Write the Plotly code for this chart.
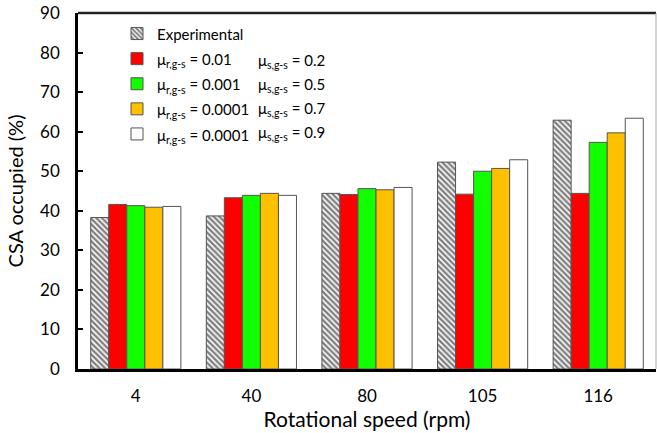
import plotly.graph_objects as go

categories = ["4", "40", "80", "105", "116"]
experimental = [38.3, 38.7, 44.4, 52.3, 62.9]
sim_a = [41.6, 43.3, 44.1, 44.2, 44.4]   # mu_r=0.01, mu_s=0.2
sim_b = [41.3, 43.9, 45.6, 50.0, 57.3]   # mu_r=0.001, mu_s=0.5
sim_c = [40.9, 44.4, 45.3, 50.7, 59.7]   # mu_r=0.0001, mu_s=0.7
sim_d = [41.1, 43.9, 45.9, 52.9, 63.4]   # mu_r=0.0001, mu_s=0.9

names_r = ["μ<sub>r,g-s</sub> = 0.01", "μ<sub>r,g-s</sub> = 0.001",
           "μ<sub>r,g-s</sub> = 0.0001", "μ<sub>r,g-s</sub> = 0.0001"]
names_s = ["μ<sub>s,g-s</sub> = 0.2", "μ<sub>s,g-s</sub> = 0.5",
           "μ<sub>s,g-s</sub> = 0.7", "μ<sub>s,g-s</sub> = 0.9"]
colors = ["#ff0000", "#11ff00", "#ffc000", "#ffffff"]

FONT = "Lato"
W, H = 657, 433
ML, MR, MT, MB = 78, 1, 13, 64


def small(t):
    return '<span style="font-size:15px">' + t + '</span>'


fig = go.Figure()
fig.add_trace(go.Bar(
    x=categories, y=experimental, name=small("Experimental"),
    marker=dict(color="white", line=dict(color="#555555", width=1),
                pattern=dict(shape="\\", fgcolor="black", bgcolor="white",
                             size=4, solidity=0.6)),
))
for vals, nm, c in zip([sim_a, sim_b, sim_c, sim_d], names_r, colors):
    fig.add_trace(go.Bar(x=categories, y=vals, name=small(nm),
                         marker=dict(color=c, line=dict(color="#555555", width=1))))

pw = W - ML - MR
ph = H - MT - MB
rows_y = [61, 85, 109, 133]
for t, yy in zip(names_s, rows_y):
    fig.add_annotation(x=(256 - ML) / pw, y=(H - MB - yy) / ph, xref="paper", yref="paper",
                       text=t, showarrow=False, xanchor="left", yanchor="middle",
                       font=dict(family=FONT, size=15, color="black"))

# top and right frame lines
fig.add_shape(type="line", xref="paper", yref="paper", x0=0, x1=1, y0=1, y1=1,
              line=dict(color="#222222", width=2.5))
fig.add_shape(type="line", xref="paper", yref="paper", x0=1, x1=1, y0=0, y1=1,
              line=dict(color="#aaaaaa", width=1))

fig.update_layout(
    width=W, height=H,
    margin=dict(l=ML, r=MR, t=MT, b=MB),
    paper_bgcolor="white", plot_bgcolor="white",
    barmode="group", bargap=0.22, bargroupgap=0,
    font=dict(family=FONT, color="black"),
    showlegend=True,
    legend=dict(x=(117 - ML) / pw, y=(H - MB - 16) / ph, xanchor="left", yanchor="top",
                font=dict(family=FONT, size=17, color="black"),
                bgcolor="rgba(0,0,0,0)", itemwidth=30, tracegroupgap=0),
    xaxis=dict(showline=True, linecolor="black", linewidth=2.5, ticks="",
               tickfont=dict(size=17, family=FONT), ticklabelstandoff=10,
               automargin=False,
               title=dict(text="Rotational speed (rpm)", font=dict(size=21, family=FONT),
                          standoff=5)),
    yaxis=dict(range=[0, 90], dtick=10, showline=True, linecolor="black", linewidth=2.5,
               ticks="inside", ticklen=5, tickwidth=1.5, tickcolor="black",
               showgrid=False, zeroline=False, automargin=False,
               tickfont=dict(size=17, family=FONT), ticklabelstandoff=12,
               title=dict(text="CSA occupied (%)", font=dict(size=20, family=FONT),
                          standoff=12)),
)

fig.write_html("out.html", config={"displayModeBar": False})

# remove default page margin so the figure sits at the window's top-left corner
with open("out.html", "r", encoding="utf-8") as f:
    html = f.read()
html = html.replace("<body>", '<body style="margin:0;padding:0;overflow:hidden">', 1)
with open("out.html", "w", encoding="utf-8") as f:
    f.write(html)
